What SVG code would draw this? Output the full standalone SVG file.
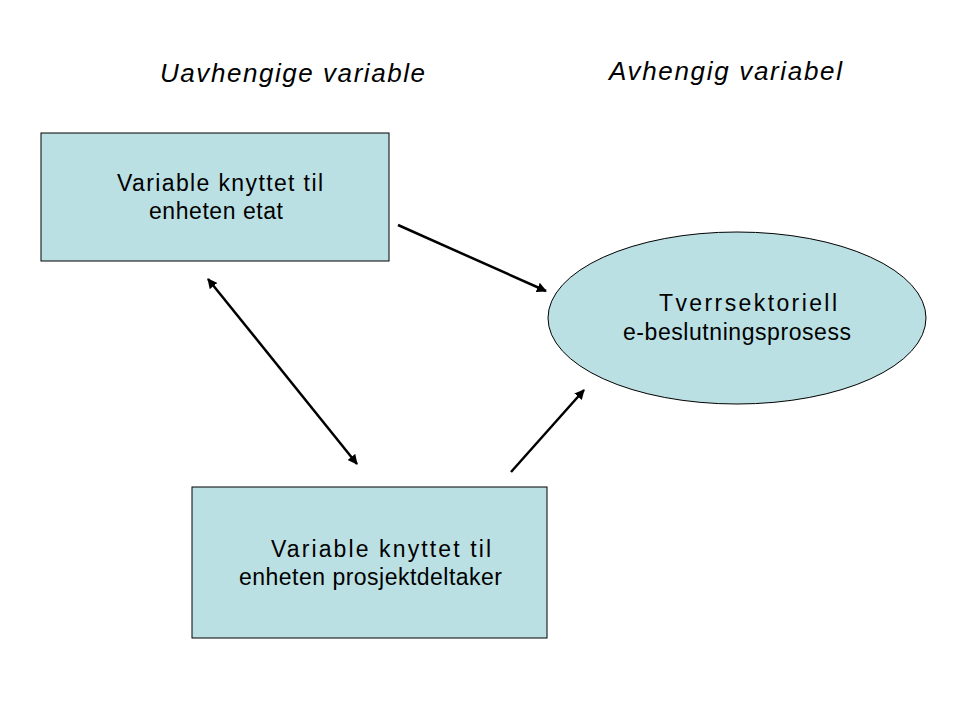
<svg xmlns="http://www.w3.org/2000/svg" width="960" height="720" viewBox="0 0 960 720">
<style>
.n{fill:#BBE0E3;stroke:#000;stroke-width:1}
.t{font-family:"Liberation Sans",Arial,sans-serif;font-size:23px;fill:#000}
.h{font-family:"Liberation Sans",Arial,sans-serif;font-size:26px;font-style:italic;fill:#000}
.c{stroke:#000;stroke-width:2.5;fill:none}
</style>
<defs>
<marker id="ah" viewBox="0 0 10 10" refX="9" refY="5" markerWidth="4" markerHeight="4" orient="auto-start-reverse" markerUnits="strokeWidth">
<path d="M0,0 L10,5 L0,10 z" fill="#000"/>
</marker>
</defs>
<rect width="960" height="720" fill="#fff"/>
<text class="h" x="160" y="82" textLength="265" lengthAdjust="spacing">Uavhengige variable</text>
<text class="h" x="609" y="80" textLength="233" lengthAdjust="spacing">Avhengig variabel</text>
<g id="node-etat">
<rect class="n" x="41" y="133" width="348" height="128"/>
<text class="t" x="117" y="191" textLength="206" lengthAdjust="spacing">Variable knyttet til</text>
<text class="t" x="149" y="219" textLength="134" lengthAdjust="spacing">enheten etat</text>
</g>
<g id="node-prosjekt">
<rect class="n" x="192" y="487" width="355" height="151"/>
<text class="t" x="271" y="557" textLength="220" lengthAdjust="spacing">Variable knyttet til</text>
<text class="t" x="239" y="585" textLength="263" lengthAdjust="spacing">enheten prosjektdeltaker</text>
</g>
<g id="node-beslutning">
<ellipse class="n" cx="737" cy="318" rx="189" ry="86"/>
<text class="t" x="659" y="311" textLength="178" lengthAdjust="spacing">Tverrsektoriell</text>
<text class="t" x="623" y="340" textLength="228" lengthAdjust="spacing">e-beslutningsprosess</text>
</g>
<g id="connectors">
<line class="c" x1="398" y1="225" x2="546" y2="291" marker-end="url(#ah)"/>
<line class="c" x1="208" y1="279" x2="357" y2="464" marker-start="url(#ah)" marker-end="url(#ah)"/>
<line class="c" x1="511" y1="472" x2="584" y2="390" marker-end="url(#ah)"/>
</g>
</svg>
